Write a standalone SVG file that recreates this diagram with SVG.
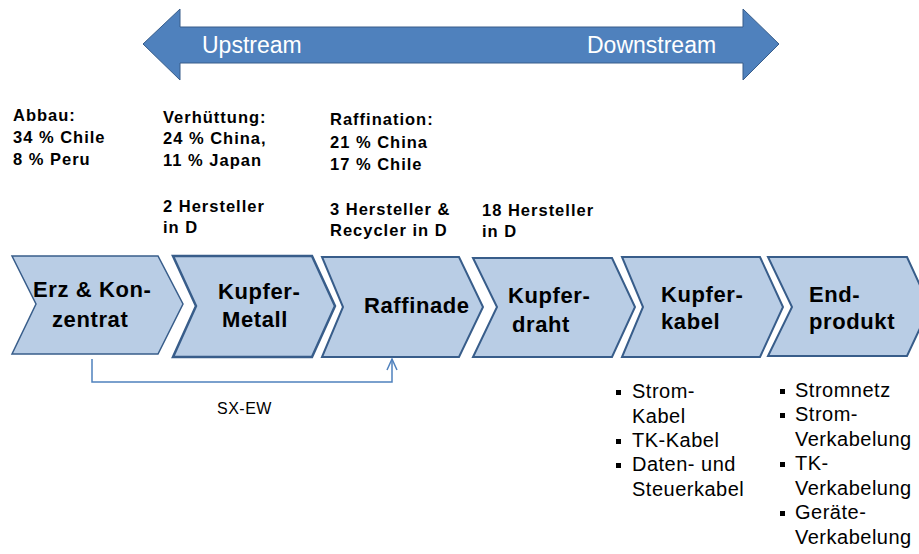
<svg xmlns="http://www.w3.org/2000/svg" width="919" height="554" viewBox="0 0 919 554">
<style>
.chev{fill:#b9cde5;stroke:#385d8a;stroke-width:2;stroke-linejoin:miter}
.ct{font-family:"Liberation Sans",Arial,sans-serif;font-weight:bold;font-size:22px;letter-spacing:0.6px;fill:#000}
.top{font-family:"Liberation Sans",Arial,sans-serif;font-weight:bold;font-size:16.5px;letter-spacing:1px;fill:#000}
.bl{font-family:"Liberation Sans",Arial,sans-serif;font-size:20px;letter-spacing:0.5px;fill:#000}
.at{font-family:"Liberation Sans",Arial,sans-serif;font-size:23px;fill:#fff}
.bul{fill:#000}
.conn{fill:none;stroke:#4f81bd;stroke-width:1.5}
</style>
<rect width="919" height="554" fill="#fff"/>
<g id="scope-arrow">
<path d="M143,44 L180,9 L180,27 L743,27 L743,9 L779,44 L743,80 L743,63 L180,63 L180,80 Z" fill="#4f81bd" stroke="#385d8a" stroke-width="1"/>
<text class="at" x="202" y="53">Upstream</text>
<text class="at" x="587" y="53">Downstream</text>
</g>
<g id="info-abbau">
<text class="top" x="13" y="121">Abbau:</text>
<text class="top" x="13" y="143">34 % Chile</text>
<text class="top" x="13" y="165">8 % Peru</text>
</g>
<g id="info-verhuettung">
<text class="top" x="163" y="123">Verhüttung:</text>
<text class="top" x="163" y="144">24 % China,</text>
<text class="top" x="163" y="166">11 % Japan</text>
<text class="top" x="163" y="212">2 Hersteller</text>
<text class="top" x="163" y="233">in D</text>
</g>
<g id="info-raffination">
<text class="top" x="330" y="125">Raffination:</text>
<text class="top" x="330" y="148">21 % China</text>
<text class="top" x="330" y="170">17 % Chile</text>
<text class="top" x="330" y="215">3 Hersteller &amp;</text>
<text class="top" x="330" y="236">Recycler in D</text>
</g>
<g id="info-draht">
<text class="top" x="482" y="216">18 Hersteller</text>
<text class="top" x="482" y="237">in D</text>
</g>
<g id="erz">
<path class="chev" style="stroke-width:1.5" d="M12,256 L158,256 L183,304 L158,354 L12,354 L36,304 Z"/>
<text class="ct" x="33" y="297">Erz &amp; Kon-</text>
<text class="ct" x="52" y="327">zentrat</text>
</g>
<g id="kupfermetall">
<path class="chev" style="stroke-width:2.5" d="M173,256 L312,256 L335,306 L312,357 L173,357 L196,306 Z"/>
<text class="ct" x="218" y="299">Kupfer-</text>
<text class="ct" x="222" y="327">Metall</text>
</g>
<g id="raffinade">
<path class="chev" d="M322,257 L459,257 L483,307 L459,357 L322,357 L343,307 Z"/>
<text class="ct" x="364" y="313">Raffinade</text>
</g>
<g id="kupferdraht">
<path class="chev" d="M473,258 L612,258 L635,307 L612,357 L473,357 L497,307 Z"/>
<text class="ct" x="508" y="303">Kupfer-</text>
<text class="ct" x="512" y="332">draht</text>
</g>
<g id="kupferkabel">
<path class="chev" d="M622,257 L760,257 L783,307 L760,357 L622,357 L643,307 Z"/>
<text class="ct" x="661" y="302">Kupfer-</text>
<text class="ct" x="661" y="329">kabel</text>
</g>
<g id="endprodukt">
<path class="chev" d="M768,257 L907,257 L930,307 L907,356 L768,356 L792,307 Z"/>
<text class="ct" x="809" y="302">End-</text>
<text class="ct" x="809" y="329">produkt</text>
</g>
<g id="connectors">
<path class="conn" d="M92,359 L92,382 L392,382 L392,359"/>
<path class="conn" d="M387,370 L392,359 L397,370"/>
</g>
<g id="sxew-label">
<text x="217" y="414" font-family="Liberation Sans,Arial,sans-serif" font-size="16" letter-spacing="0.5" fill="#000">SX-EW</text>
</g>
<g id="list-kabel">
<rect class="bul" x="616" y="390" width="5" height="5"/>
<text class="bl" x="632" y="398">Strom-</text>
<text class="bl" x="632" y="423">Kabel</text>
<rect class="bul" x="616" y="439" width="5" height="5"/>
<text class="bl" x="632" y="447">TK-Kabel</text>
<rect class="bul" x="616" y="463" width="5" height="5"/>
<text class="bl" x="632" y="471">Daten- und</text>
<text class="bl" x="632" y="496">Steuerkabel</text>
</g>
<g id="list-produkt">
<rect class="bul" x="780" y="389" width="5" height="5"/>
<text class="bl" x="795" y="397">Stromnetz</text>
<rect class="bul" x="780" y="413" width="5" height="5"/>
<text class="bl" x="795" y="421">Strom-</text>
<text class="bl" x="795" y="446">Verkabelung</text>
<rect class="bul" x="780" y="462" width="5" height="5"/>
<text class="bl" x="795" y="470">TK-</text>
<text class="bl" x="795" y="495">Verkabelung</text>
<rect class="bul" x="780" y="511" width="5" height="5"/>
<text class="bl" x="795" y="519">Geräte-</text>
<text class="bl" x="795" y="544">Verkabelung</text>
</g>
</svg>
